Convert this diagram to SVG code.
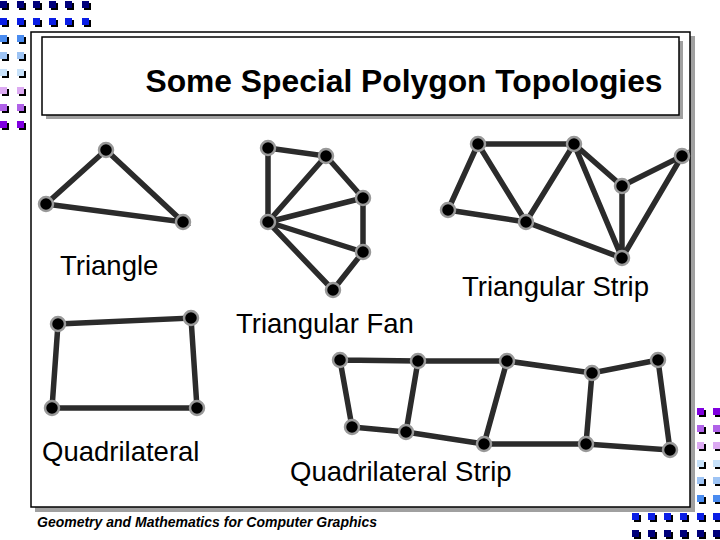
<svg xmlns="http://www.w3.org/2000/svg" width="720" height="540" viewBox="0 0 720 540">
<defs>
<style>
.sh{fill:#000}
.frame{fill:#fff;stroke:#000;stroke-width:1.5}
.shadow{fill:#a0a0a0}
.e{stroke:#2b2b2b;stroke-width:5.5;stroke-linecap:round;fill:none}
.n{fill:#000;stroke:#999;stroke-width:2.5}
.lbl{font-family:"Liberation Sans",Arial,sans-serif;font-size:27.5px;fill:#000}
.title{font-family:"Liberation Sans",Arial,sans-serif;font-size:31.8px;font-weight:bold;fill:#000}
.foot{font-family:"Liberation Sans",Arial,sans-serif;font-size:14px;font-weight:bold;font-style:italic;fill:#000}
</style>
<g id="sq"><rect x="2" y="2" width="7" height="7" class="sh"/></g>
</defs>
<rect width="720" height="540" fill="#fff"/>
<g id="decor-tl">
<g fill="#00007a">
<use href="#sq" x="0" y="1"/><use href="#sq" x="17" y="1"/><use href="#sq" x="33" y="1"/><use href="#sq" x="49" y="1"/><use href="#sq" x="65" y="1"/><use href="#sq" x="82" y="1"/>
<rect x="0" y="1" width="7" height="7"/><rect x="17" y="1" width="7" height="7"/><rect x="33" y="1" width="7" height="7"/><rect x="49" y="1" width="7" height="7"/><rect x="65" y="1" width="7" height="7"/><rect x="82" y="1" width="7" height="7"/>
</g>
<g>
<use href="#sq" x="0" y="18"/><use href="#sq" x="17" y="18"/><use href="#sq" x="33" y="18"/><use href="#sq" x="49" y="18"/><use href="#sq" x="65" y="18"/><use href="#sq" x="82" y="18"/>
<g fill="#0a1ee6"><rect x="0" y="18" width="7" height="7"/><rect x="17" y="18" width="7" height="7"/><rect x="33" y="18" width="7" height="7"/><rect x="49" y="18" width="7" height="7"/><rect x="65" y="18" width="7" height="7"/><rect x="82" y="18" width="7" height="7"/></g>
<use href="#sq" x="0" y="35"/><use href="#sq" x="17" y="35"/>
<g fill="#4a8cf0"><rect x="0" y="35" width="7" height="7"/><rect x="17" y="35" width="7" height="7"/></g>
<use href="#sq" x="0" y="52"/><use href="#sq" x="17" y="52"/>
<g fill="#9ec4f4"><rect x="0" y="52" width="7" height="7"/><rect x="17" y="52" width="7" height="7"/></g>
<use href="#sq" x="0" y="69"/><use href="#sq" x="17" y="69"/>
<g fill="#c8e2fa"><rect x="0" y="69" width="7" height="7"/><rect x="17" y="69" width="7" height="7"/></g>
<use href="#sq" x="0" y="87"/><use href="#sq" x="17" y="87"/>
<g fill="#dcaaf2"><rect x="0" y="87" width="7" height="7"/><rect x="17" y="87" width="7" height="7"/></g>
<use href="#sq" x="0" y="104"/><use href="#sq" x="17" y="104"/>
<g fill="#b062e8"><rect x="0" y="104" width="7" height="7"/><rect x="17" y="104" width="7" height="7"/></g>
<use href="#sq" x="0" y="121"/><use href="#sq" x="17" y="121"/>
<g fill="#8000e0"><rect x="0" y="121" width="7" height="7"/><rect x="17" y="121" width="7" height="7"/></g>
</g>
</g>
<g id="decor-br">
<use href="#sq" x="697" y="408"/><use href="#sq" x="713" y="408"/>
<g fill="#8000e0"><rect x="697" y="408" width="7" height="7"/><rect x="713" y="408" width="7" height="7"/></g>
<use href="#sq" x="697" y="425"/><use href="#sq" x="713" y="425"/>
<g fill="#b062e8"><rect x="697" y="425" width="7" height="7"/><rect x="713" y="425" width="7" height="7"/></g>
<use href="#sq" x="697" y="442"/><use href="#sq" x="713" y="442"/>
<g fill="#dcaaf2"><rect x="697" y="442" width="7" height="7"/><rect x="713" y="442" width="7" height="7"/></g>
<use href="#sq" x="697" y="460"/><use href="#sq" x="713" y="460"/>
<g fill="#c8e2fa"><rect x="697" y="460" width="7" height="7"/><rect x="713" y="460" width="7" height="7"/></g>
<use href="#sq" x="697" y="477"/><use href="#sq" x="713" y="477"/>
<g fill="#9ec4f4"><rect x="697" y="477" width="7" height="7"/><rect x="713" y="477" width="7" height="7"/></g>
<use href="#sq" x="697" y="495"/><use href="#sq" x="713" y="495"/>
<g fill="#4a8cf0"><rect x="697" y="495" width="7" height="7"/><rect x="713" y="495" width="7" height="7"/></g>
<use href="#sq" x="632" y="513"/><use href="#sq" x="648" y="513"/><use href="#sq" x="664" y="513"/><use href="#sq" x="680" y="513"/><use href="#sq" x="697" y="513"/><use href="#sq" x="713" y="513"/>
<g fill="#0a1ee6"><rect x="632" y="513" width="7" height="7"/><rect x="648" y="513" width="7" height="7"/><rect x="664" y="513" width="7" height="7"/><rect x="680" y="513" width="7" height="7"/><rect x="697" y="513" width="7" height="7"/><rect x="713" y="513" width="7" height="7"/></g>
<use href="#sq" x="632" y="530"/><use href="#sq" x="648" y="530"/><use href="#sq" x="664" y="530"/><use href="#sq" x="680" y="530"/><use href="#sq" x="697" y="530"/><use href="#sq" x="713" y="530"/>
<g fill="#00007a"><rect x="632" y="530" width="7" height="7"/><rect x="648" y="530" width="7" height="7"/><rect x="664" y="530" width="7" height="7"/><rect x="680" y="530" width="7" height="7"/><rect x="697" y="530" width="7" height="7"/><rect x="713" y="530" width="7" height="7"/></g>
</g>
<g id="frame">
<rect x="35" y="36" width="660" height="476" class="shadow"/>
<rect x="31" y="32" width="659" height="475" class="frame"/>
</g>
<g id="title">
<rect x="46" y="41" width="637" height="78" class="shadow"/>
<rect x="42" y="37" width="637" height="78" class="frame"/>
<text x="404" y="92" text-anchor="middle" class="title">Some Special Polygon Topologies</text>
</g>
<g id="connectors">
<path class="e" d="M106,150 L46,204 L183,222 Z"/>
<path class="e" d="M268,148 L326,156 L363,198 L363,252 L333,290 L268,222 Z M268,222 L326,156 M268,222 L363,198 M268,222 L363,252"/>
<path class="e" d="M448,210 L478,144 L574,144 L622,186 L682,156 L622,258 L526,222 Z M478,144 L526,222 L574,144 L622,258 L622,186"/>
<path class="e" d="M58,324 L191,318 L197,408 L52,408 Z"/>
<path class="e" d="M340,360 L418,361 L507,361 L592,373 L658,360 M352,427 L406,432 L484,444 L586,444 L670,450 M340,360 L352,427 M418,361 L406,432 M507,361 L484,444 M592,373 L586,444 M658,360 L670,450"/>
</g>
<g id="triangle">
<circle class="n" cx="106" cy="150" r="7"/><circle class="n" cx="46" cy="204" r="7"/><circle class="n" cx="183" cy="222" r="7"/>
<text x="60" y="275" class="lbl">Triangle</text>
</g>
<g id="fan">
<circle class="n" cx="268" cy="148" r="7"/><circle class="n" cx="326" cy="156" r="7"/><circle class="n" cx="363" cy="198" r="7"/><circle class="n" cx="268" cy="222" r="7"/><circle class="n" cx="363" cy="252" r="7"/><circle class="n" cx="333" cy="290" r="7"/>
<text x="236" y="333" class="lbl">Triangular Fan</text>
</g>
<g id="strip">
<circle class="n" cx="478" cy="144" r="7"/><circle class="n" cx="574" cy="144" r="7"/><circle class="n" cx="682" cy="156" r="7"/><circle class="n" cx="622" cy="186" r="7"/><circle class="n" cx="448" cy="210" r="7"/><circle class="n" cx="526" cy="222" r="7"/><circle class="n" cx="622" cy="258" r="7"/>
<text x="462" y="296" class="lbl">Triangular Strip</text>
</g>
<g id="quad">
<circle class="n" cx="58" cy="324" r="7"/><circle class="n" cx="191" cy="318" r="7"/><circle class="n" cx="52" cy="408" r="7"/><circle class="n" cx="197" cy="408" r="7"/>
<text x="42" y="461" class="lbl">Quadrilateral</text>
</g>
<g id="quadstrip">
<circle class="n" cx="340" cy="360" r="7"/><circle class="n" cx="418" cy="361" r="7"/><circle class="n" cx="507" cy="361" r="7"/><circle class="n" cx="592" cy="373" r="7"/><circle class="n" cx="658" cy="360" r="7"/>
<circle class="n" cx="352" cy="427" r="7"/><circle class="n" cx="406" cy="432" r="7"/><circle class="n" cx="484" cy="444" r="7"/><circle class="n" cx="586" cy="444" r="7"/><circle class="n" cx="670" cy="450" r="7"/>
<text x="290" y="481" class="lbl">Quadrilateral Strip</text>
</g>
<text id="footer" x="37" y="527" class="foot">Geometry and Mathematics for Computer Graphics</text>
</svg>
